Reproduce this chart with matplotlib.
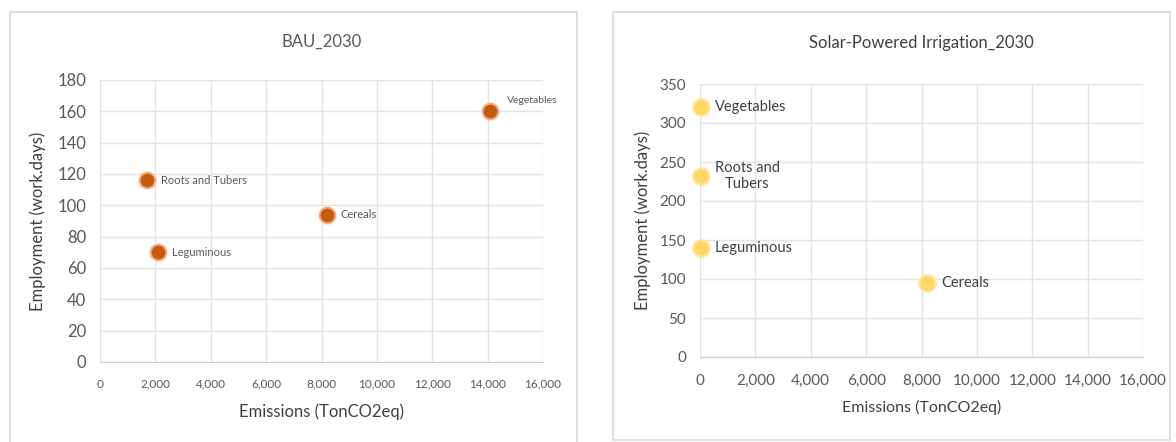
import matplotlib.pyplot as plt
from matplotlib.patches import Rectangle
from matplotlib.ticker import FuncFormatter

plt.rcParams['font.family'] = ['Lato', 'DejaVu Sans']

# Crop data, 2030 scenarios
bau_crops = ['Vegetables', 'Roots and Tubers', 'Cereals', 'Leguminous']
bau_emissions = [14100, 1700, 8200, 2100]
bau_employment = [160, 116, 94, 70]

spi_crops = ['Vegetables', 'Roots and\nTubers', 'Leguminous', 'Cereals']
spi_emissions = [40, 40, 40, 8200]
spi_employment = [320, 232, 140, 95]

W, H = 1176, 442
fig = plt.figure(figsize=(W / 100, H / 100), dpi=100)
fig.patch.set_facecolor('white')


def px_rect(x0, y0, x1, y1):
    # pixel box (top-left origin) -> figure fraction [left, bottom, width, height]
    return [x0 / W, 1 - y1 / H, (x1 - x0) / W, (y1 - y0) / H]


# chart frames
for x0, y0, x1, y1 in [(10, 12, 577, 470), (613, 12, 1170, 440)]:
    l, b, w, h = px_rect(x0, y0, x1, y1)
    fig.add_artist(Rectangle((l, b), w, h, transform=fig.transFigure,
                             fill=False, edgecolor='#d9d9d9', linewidth=1.2))

grid_c = '#e3e3e3'
text_c = '#595959'
comma = FuncFormatter(lambda v, p: f'{int(v):,}')


def style(ax, ymax, ystep, xfs, yfs):
    ax.set_xlim(0, 16000)
    ax.set_ylim(0, ymax)
    ax.set_xticks(range(0, 16001, 2000))
    ax.set_yticks(range(0, ymax + 1, ystep))
    ax.xaxis.set_major_formatter(comma)
    ax.grid(True, color=grid_c, linewidth=1)
    ax.set_axisbelow(True)
    for s in ['top', 'right', 'left']:
        ax.spines[s].set_visible(False)
    ax.spines['bottom'].set_color('#d0d0d0')
    ax.tick_params(length=0, colors=text_c)
    ax.tick_params(axis='x', labelsize=xfs, pad=12)
    ax.tick_params(axis='y', labelsize=yfs, pad=10)


# BAU panel
ax1 = fig.add_axes(px_rect(100, 80, 543, 362))
style(ax1, 180, 20, 8.5, 12)
ax1.scatter(bau_emissions, bau_employment, s=130, color='#C55A11',
            edgecolor='#F4B183', linewidth=1.5, zorder=3)
for name, x, y in zip(bau_crops, bau_emissions, bau_employment):
    if name == 'Vegetables':
        ax1.annotate(name, (x, y), xytext=(12, 8), textcoords='offset points',
                     fontsize=7.5, color=text_c, va='center')
    else:
        ax1.annotate(name, (x, y), xytext=(10, 0), textcoords='offset points',
                     fontsize=8, color=text_c, va='center')
ax1.set_title('BAU_2030', fontsize=12, color=text_c, pad=24)
ax1.set_xlabel('Emissions (TonCO2eq)', fontsize=12, color='#404040', labelpad=10)
ax1.set_ylabel('Employment (work.days)', fontsize=12, color='#404040', labelpad=8)

# Solar-powered irrigation panel
ax2 = fig.add_axes(px_rect(700, 84, 1143, 357))
style(ax2, 350, 50, 11, 11)
ax2.scatter(spi_emissions, spi_employment, s=140, color='#FFD966',
            edgecolor='#FFE699', linewidth=1.5, zorder=3, clip_on=False)
for name, x, y in zip(spi_crops, spi_emissions, spi_employment):
    ax2.annotate(name, (x, y), xytext=(10, 0), textcoords='offset points',
                 fontsize=10.5, color='#404040', va='center',
                 ha='left', multialignment='center')
ax2.set_title('Solar-Powered Irrigation_2030', fontsize=12, color='#404040', pad=26)
ax2.set_xlabel('Emissions (TonCO2eq)', fontsize=11.5, color='#404040', labelpad=9)
ax2.set_ylabel('Employment (work.days)', fontsize=12, color='#404040', labelpad=6)

fig.savefig('out.png', dpi=100)
plt.close(fig)
